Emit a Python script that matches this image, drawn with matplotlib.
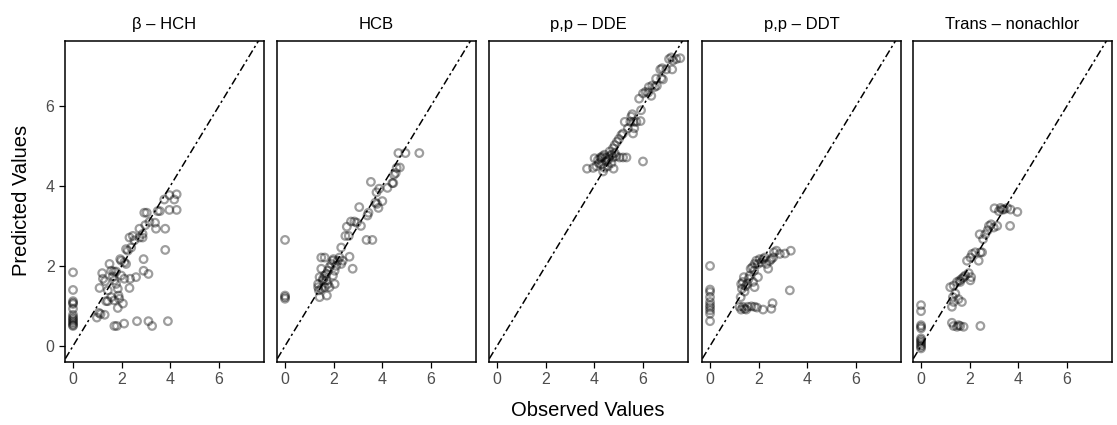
import matplotlib
matplotlib.use("Agg")
import matplotlib.pyplot as plt
import numpy as np

plt.rcParams['font.family'] = ['Liberation Sans', 'DejaVu Sans']

# panel titles
compounds = ["β – HCH", "HCB", "p,p – DDE", "p,p – DDT", "Trans – nonachlor"]

# observed / predicted values, one pair of lists per panel
hch_obs = [0, 0, 0, 0, 0, 0, 0, 0, 0, 0, 0, 0, 0, 0,
           1.7, 1.8, 2.1, 2.63, 3.1, 3.25, 3.9,
           0.98, 1.06, 1.13, 1.3, 1.36, 1.43, 1.09, 1.23, 1.2, 1.32, 1.5, 1.57, 1.64, 1.7,
           1.77, 1.84, 1.87, 1.9, 1.84, 1.68, 1.77, 1.94, 1.98, 2.11, 2.18, 2.25, 2.32,
           2.39, 2.46, 2.52, 2.11, 2.32, 2.35, 2.59, 2.73, 2.86, 2.9, 2.9, 3.1, 2.97,
           2.93, 3.03, 3.14, 3.37, 3.41, 3.48, 3.57, 3.79, 3.79, 3.75, 3.96, 4.16, 4.26,
           3.96, 4.26, 2.73, 2.86, 2.18, 1.98, 1.43, 1.57, 1.7, 2.05]
hch_pred = [1.84, 1.40, 1.12, 1.08, 1.05, 0.93, 0.78, 0.72, 0.68, 0.64, 0.60, 0.56, 0.52, 0.50,
            0.5, 0.5, 0.56, 0.62, 0.62, 0.5, 0.62,
            0.71, 0.83, 0.80, 0.78, 1.12, 1.12, 1.45, 1.68, 1.82, 1.62, 2.05, 1.88, 1.74, 1.64,
            1.55, 1.43, 1.26, 1.18, 0.95, 1.86, 1.86, 2.17, 2.13, 2.09, 2.42, 2.38, 2.71,
            2.46, 2.75, 2.64, 1.68, 1.45, 1.68, 1.72, 2.71, 2.71, 2.17, 1.88, 1.80, 3.02,
            3.33, 3.33, 3.1, 3.08, 2.93, 3.37, 3.37, 2.93, 2.4, 3.66, 3.77, 3.66, 3.79,
            3.4, 3.4, 2.93, 2.8, 2.05, 1.76, 1.39, 1.22, 1.14, 1.06]

hcb_obs = [0, 0, 0, 0,
           1.42, 1.39, 1.36, 1.42, 1.49, 1.49, 1.63, 1.56, 1.63, 1.7, 1.72, 1.76, 1.83, 1.9,
           1.97, 1.99, 2.04, 2.1, 2.17, 2.24, 2.31, 2.31, 2.37, 2.65, 2.78, 1.56, 1.7, 1.76,
           1.83, 1.97, 1.36, 1.49, 1.63, 2.04,
           2.48, 2.62, 2.54, 2.71, 2.85, 2.95, 3.12, 3.05, 3.39, 3.43, 3.35, 3.59, 3.53,
           3.76, 3.87, 3.71, 3.78, 4.0, 3.84, 4.21, 4.41, 4.48, 4.59, 4.72, 4.55, 4.66,
           4.95, 5.52, 4.45]
hcb_pred = [2.65, 1.26, 1.22, 1.18,
            1.22, 1.39, 1.55, 1.72, 1.93, 2.21, 2.21, 1.64, 1.76, 1.80, 1.26, 1.88, 1.97, 2.05,
            2.13, 2.17, 1.88, 2.0, 2.13, 2.21, 2.46, 2.05, 2.13, 2.23, 1.93, 1.68, 1.64, 1.55,
            1.47, 1.76, 1.47, 1.43, 1.47, 1.55,
            2.75, 2.75, 2.98, 3.11, 3.11, 3.08, 3.0, 3.47, 3.26, 3.33, 2.65, 2.65, 4.1,
            3.84, 3.93, 3.58, 3.55, 3.62, 3.45, 3.95, 4.07, 4.28, 4.45, 4.46, 4.32, 4.82,
            4.82, 4.82, 4.07]

dde_obs = [3.7, 3.95, 4.08, 4.19, 4.25, 4.33, 4.42, 4.49, 4.56, 4.63, 4.7, 4.77, 4.84, 4.9,
           5.04, 5.18, 5.32, 4.29, 4.42, 4.56, 4.7, 4.79, 4.36, 4.49, 4.63, 4.77, 4.84,
           4.93, 5.01, 6.0, 4.15, 4.01, 4.29,
           5.11, 5.18, 5.59, 5.38, 5.48, 5.52, 5.56, 5.62, 5.73, 5.25, 5.9, 5.64, 5.92,
           5.84, 6.0, 6.11, 6.21, 6.34, 6.24, 6.38, 6.48, 6.57, 6.54, 6.75, 6.82, 6.71,
           6.79, 6.96, 7.2, 7.07, 7.16, 7.37, 7.53, 7.23]
dde_pred = [4.43, 4.45, 4.49, 4.57, 4.71, 4.74, 4.78, 4.71, 4.65, 4.74, 4.78, 4.71, 4.82, 4.74,
            4.71, 4.71, 4.71, 4.53, 4.45, 4.49, 4.57, 4.43, 4.36, 4.61, 4.86, 4.94, 5.02,
            5.1, 5.17, 4.61, 4.65, 4.69, 4.69,
            5.27, 5.31, 5.31, 5.44, 5.6, 5.73, 5.79, 5.6, 5.6, 5.6, 5.62, 5.44, 5.89,
            6.18, 6.31, 6.35, 6.33, 6.25, 6.47, 6.51, 6.47, 6.5, 6.68, 6.69, 6.66, 6.91,
            6.94, 6.91, 6.91, 7.17, 7.21, 7.17, 7.19, 7.13]

ddt_obs = [0, 0, 0, 0, 0, 0, 0, 0, 0, 0,
           1.21, 1.28, 1.35, 1.42, 1.56, 1.7, 1.83, 2.18, 2.52, 2.57, 1.49, 1.93,
           1.26, 1.31, 1.35, 1.39, 1.46, 1.53, 1.59, 1.63, 1.67, 1.74, 1.81, 1.83, 1.9,
           1.97, 2.04, 2.11, 2.18, 2.25, 2.39, 2.32, 2.46, 2.52, 2.59, 2.63, 2.73, 2.87,
           3.08, 3.32, 3.28, 1.42, 1.77, 1.97, 1.83, 1.28]
ddt_pred = [2.0, 1.41, 1.35, 1.22, 1.1, 1.02, 0.96, 0.89, 0.81, 0.62,
            0.98, 0.91, 0.98, 0.93, 0.98, 0.99, 0.98, 0.91, 0.93, 1.07, 0.91, 0.96,
            1.22, 1.43, 1.6, 1.72, 1.49, 1.55, 1.68, 1.76, 1.93, 1.97, 1.88, 2.05, 2.13,
            2.05, 2.17, 2.09, 2.17, 2.21, 1.93, 2.05, 2.13, 2.17, 2.21, 2.34, 2.38, 2.3,
            2.31, 2.38, 1.39, 1.36, 1.6, 1.72, 1.47, 1.55]

tn_obs = [0, 0, 0, 0, 0, 0, 0, 0, 0, 0, 0, 0,
          1.27, 1.34, 1.48, 1.61, 1.75, 2.44, 1.54,
          1.27, 1.34, 1.31, 1.41, 1.54, 1.68, 1.2, 1.34, 1.48, 1.59, 1.68, 1.82, 1.96,
          2.03, 2.06, 1.89, 2.03, 2.1, 2.23, 2.44, 2.37, 2.51, 2.41, 2.55, 2.64, 2.74,
          2.79, 2.88, 2.99, 3.13, 3.02, 3.2, 3.27, 3.41, 3.54, 3.68, 3.96, 3.66, 3.34,
          1.61, 1.75]
tn_pred = [1.02, 0.87, 0.52, 0.48, 0.44, 0.19, 0.11, 0.02, -0.06, 0.15, 0.07, -0.02,
           0.58, 0.5, 0.48, 0.5, 0.48, 0.5, 0.52,
           0.98, 1.1, 1.22, 1.31, 1.17, 1.1, 1.47, 1.51, 1.6, 1.64, 1.68, 1.76, 1.82,
           1.64, 1.72, 2.13, 2.21, 2.3, 2.34, 2.34, 2.13, 2.34, 2.79, 2.67, 2.79, 2.89,
           3.0, 3.04, 2.96, 3.0, 3.44, 3.37, 3.45, 3.41, 3.45, 3.41, 3.35, 3.0, 3.41,
           1.6, 1.72]

observed = [hch_obs, hcb_obs, dde_obs, ddt_obs, tn_obs]
predicted = [hch_pred, hcb_pred, dde_pred, ddt_pred, tn_pred]

fig = plt.figure(figsize=(11.17, 4.25), dpi=100)

W, H = 1117.0, 425.0
panel_left = [65, 277, 489, 702, 913]
panel_w = 199
top_px, bottom_px = 41, 362

for i in range(5):
    ax = fig.add_axes([panel_left[i] / W, 1 - bottom_px / H, panel_w / W, (bottom_px - top_px) / H])
    # open grey rings, darker where they overlap
    ax.scatter(observed[i], predicted[i], s=30, facecolors='none',
               edgecolors=(0, 0, 0, 0.38), linewidths=1.6, zorder=3)
    xs = np.array([-1, 9])
    ax.plot(xs, xs, color='black', lw=1.1, dashes=(5, 2, 1.5, 2), zorder=2)
    ax.set_xlim(-0.33, 7.85)
    ax.set_ylim(-0.4, 7.62)
    ax.set_xticks([0, 2, 4, 6])
    ax.set_yticks([0, 2, 4, 6])
    ax.tick_params(direction='out', length=4, width=0.9, colors='black',
                   labelcolor='#4d4d4d', labelsize=11.5)
    if i > 0:
        ax.tick_params(axis='y', left=False, labelleft=False)
    for sp in ax.spines.values():
        sp.set_linewidth(1.1)
    ax.set_title(compounds[i], fontsize=12, pad=9)

fig.text((65 + 1111) / 2 / W, 1 - 410 / H, "Observed Values", ha='center', va='center', fontsize=14.5)
fig.text(22 / W, 1 - 200 / H, "Predicted Values", ha='center', va='center', rotation=90, fontsize=14.5)

plt.savefig("out.png", dpi=100)
